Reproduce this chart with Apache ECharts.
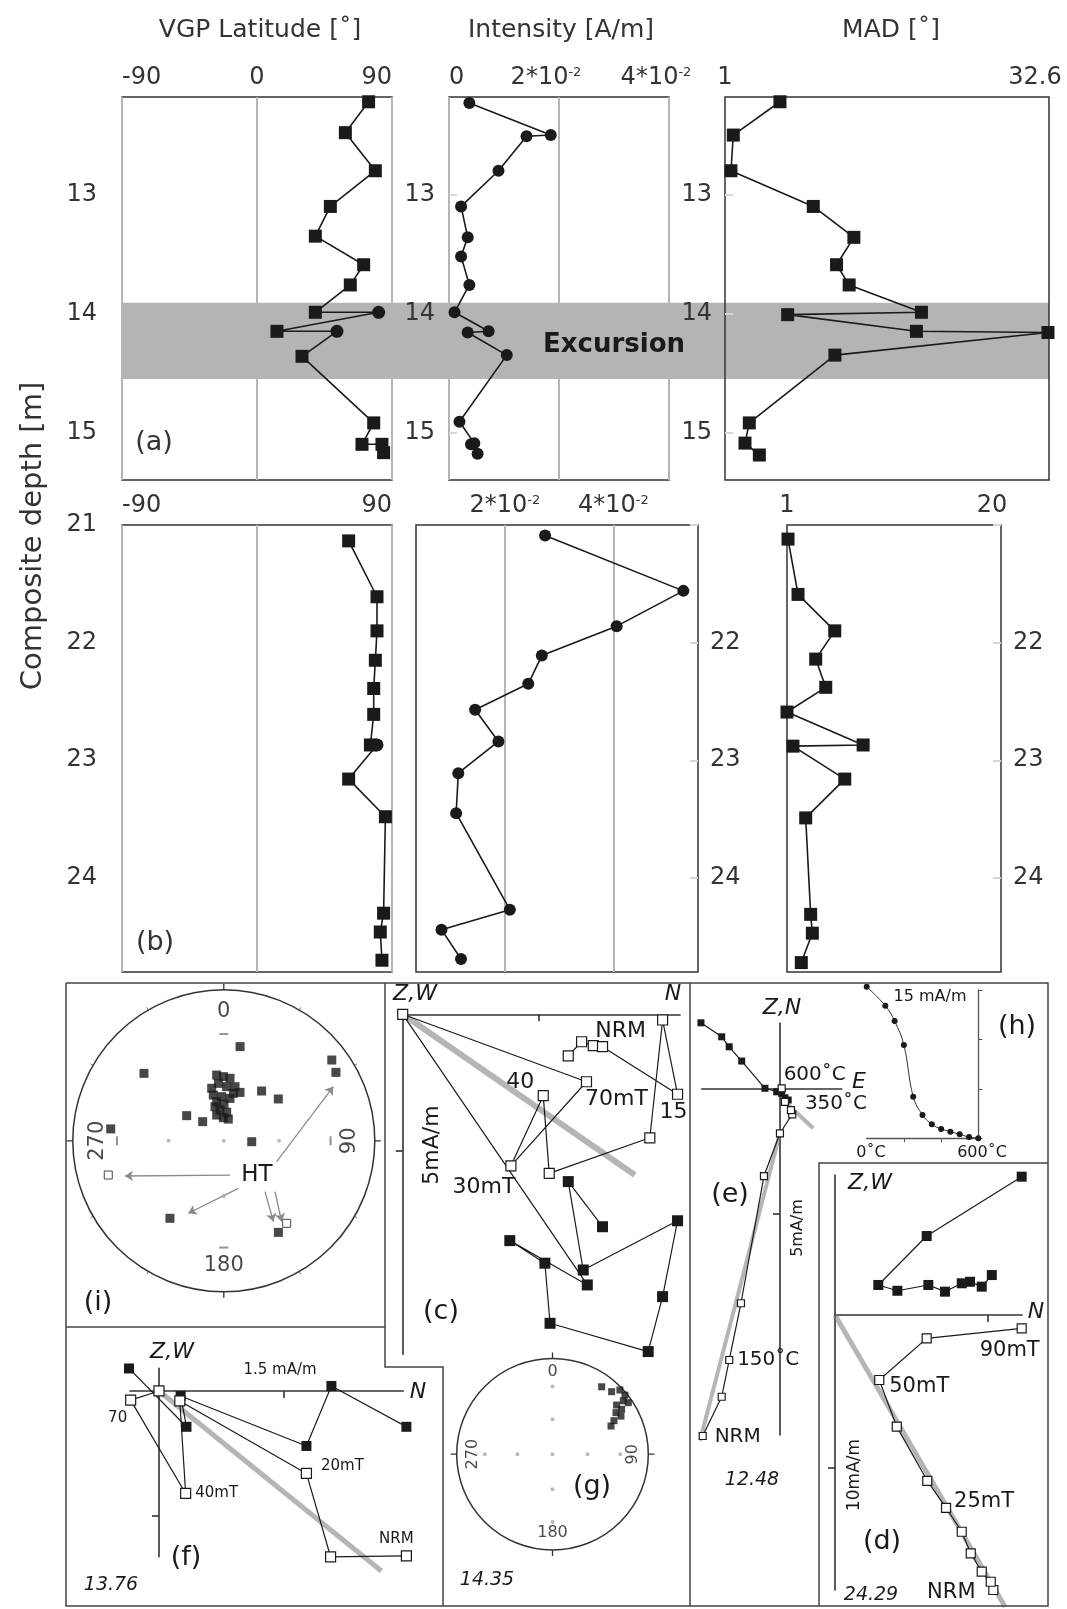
<!DOCTYPE html>
<html><head><meta charset="utf-8">
<script src="https://cdn.jsdelivr.net/npm/echarts@6.0.0/dist/echarts.min.js"></script>
<style>html,body{margin:0;padding:0;background:#fff}#c{width:1067px;height:1609px}</style>
</head><body><div id="c"></div>
<script>
const FONT = 'DejaVu Sans';
const INK = '#1a1a1a';

// ===== Depth profiles: [value, composite depth (m)] =====
const vgpTop = [[74.4,12.22],[58.9,12.48],[78.9,12.80],[48.9,13.10],[38.9,13.35],[71.1,13.59],[62.2,13.76],[38.9,13.99],[81.1,13.99],[13.3,14.15],[53.3,14.15],[30.0,14.36],[77.8,14.92],[70.0,15.10],[83.3,15.10],[84.4,15.17]];
const vgpTopCircleIdx = [8, 10];
const intTop = [[0.0037,12.23],[0.0185,12.50],[0.0141,12.51],[0.0090,12.80],[0.0022,13.10],[0.0034,13.36],[0.0022,13.52],[0.0037,13.76],[0.0010,13.99],[0.0072,14.15],[0.0034,14.16],[0.0105,14.35],[0.0019,14.91],[0.0046,15.09],[0.0040,15.10],[0.0052,15.18]];
const madTop = [[6.36,12.22],[1.81,12.50],[1.58,12.80],[9.61,13.10],[13.57,13.36],[11.88,13.59],[13.11,13.76],[20.16,13.99],[7.11,14.01],[19.67,14.15],[32.5,14.16],[11.72,14.35],[3.37,14.92],[2.95,15.09],[4.35,15.19]];
const vgpBot = [[61.1,21.135],[80,21.61],[80,21.90],[78.9,22.15],[77.8,22.39],[77.8,22.61],[75.6,22.87],[80,22.87],[61.1,23.16],[85.6,23.48],[84.4,24.30],[82.2,24.46],[83.3,24.70]];
const vgpBotCircleIdx = [7];
const intBot = [[0.0274,21.09],[0.0529,21.56],[0.0406,21.86],[0.0268,22.11],[0.0243,22.35],[0.0145,22.57],[0.0188,22.84],[0.0114,23.11],[0.0110,23.45],[0.0209,24.27],[0.0083,24.44],[0.0119,24.69]];
const madBot = [[1.09,21.12],[1.98,21.59],[5.24,21.90],[3.55,22.14],[4.44,22.38],[1.0,22.59],[7.76,22.87],[1.53,22.88],[6.13,23.16],[2.66,23.49],[3.10,24.31],[3.25,24.47],[2.27,24.72]];
const excursionBand = [13.91, 14.55];
const depthRangeTop = [12.18, 15.4];
const depthRangeBot = [21, 24.8];
const depthTicksTop = [13, 14, 15];
const vgpRange = [-90, 90];
const intRangeTop = [0, 0.04];
const intRangeBot = [0.0036, 0.0556];
const intTicks = [0.02, 0.04];
const madRangeTop = [1, 32.6];
const madRangeBot = [1, 20];

// ===== Zijderveld diagrams (mA/m; x = N or E, y = up/down component) =====
const cOpen = [[6.09,-1.53],[6.58,-1.01],[7.01,-1.15],[7.35,-1.19],[10.11,-2.94],[9.56,-0.21],[9.09,-4.54],[5.39,-5.85],[5.17,-2.99],[3.98,-5.57],[6.76,-2.48],[0,0]];
const cOpenNames = ['','','','','15','NRM','','','40','30mT','70mT',''];
const cFilled = [[7.35,-7.81],[6.09,-6.15],[6.64,-9.40],[10.11,-7.59],[9.56,-10.38],[9.03,-12.40],[5.42,-11.36],[5.23,-9.15],[3.94,-8.32],[6.79,-9.95],[0,0]];
const cFit = [[0,0],[8.54,-5.91]];

const eOpen = [[-3.09,-13.91],[-2.33,-12.34],[-2.03,-10.87],[-1.56,-8.6],[-0.64,-3.51],[0,-1.8],[0.49,-1.04],[0.44,-0.87],[0.2,-0.54],[0.07,0]];
const eOpenNames = ['NRM','','150˚C','','','','','','350˚C','600˚C'];
const eFilled = [[-3.16,2.62],[-2.33,2.06],[-2.03,1.66],[-1.53,1.09],[-0.6,0],[-0.13,-0.14],[0.07,-0.2],[0.2,-0.38],[0.33,-0.47]];
const eFitLong = [[0,-1.8],[-3.2,-14.1]];
const eFitShort = [[0.2,-0.54],[1.33,-1.6]];

const dOpen = [[10.38,-18.03],[10.21,-17.49],[9.62,-16.83],[8.90,-15.63],[8.31,-14.21],[7.28,-12.64],[6.05,-10.87],[4.05,-7.32],[2.90,-4.26],[6.01,-1.53],[12.24,-0.87]];
const dOpenNames = ['NRM','','','','','25mT','','','50mT','','90mT'];
const dFilled = [[10.28,2.62],[9.62,1.86],[8.85,2.18],[8.31,2.08],[7.21,1.53],[6.12,1.97],[4.09,1.59],[2.84,1.97],[6.01,5.18],[12.24,9.07]];
const dFit = [[0,0],[11.15,-19.13]];

const fOpen = [[2.97,-1.98],[2.06,-1.99],[1.77,-0.99],[0.25,-0.12],[0.32,-1.23],[-0.34,-0.11],[0,0]];
const fOpenNames = ['NRM','','20mT','','40mT','70',''];
const fFilled = [[-0.36,0.27],[0.33,-0.43],[0.26,-0.06],[1.77,-0.66],[2.07,0.06],[2.97,-0.43]];
const fFit = [[0,0],[2.67,-2.16]];

// (h) thermal demagnetisation curve
const hTemp = [0,100,150,200,250,300,350,400,450,500,550,600];
const hMag = [15.33,13.41,11.86,9.44,4.21,2.36,1.42,0.94,0.67,0.40,0.13,0];

// ===== Stereonets: [projected radius (0..1), declination] =====
const iFilled = [[0.633,9.8],[0.893,53.2],[0.870,58.6],[0.692,310.2],[0.414,37.2],[0.455,52.5],[0.297,304.1],[0.189,312.2],[0.185,91.8],[0.753,276.0],[0.625,214.8],[0.706,149.2],
 [0.438,353.8],[0.425,359.6],[0.416,5.7],[0.382,354.6],[0.357,347.0],[0.359,3.0],[0.366,11.7],[0.338,18.5],[0.311,347.1],[0.293,357.2],[0.284,8.3],[0.263,349.7],[0.242,0.3],[0.233,345.5],[0.206,353.0],[0.190,5.8],[0.177,344.5],[0.153,358.8],[0.147,11.7],[0.321,11.4]];
const iOpen = [[0.798,253.5],[0.687,142.7]];
const gFilled = [[0.871,36.1],[0.898,43.4],[0.972,46.4],[0.976,50.8],[0.926,53.0],[0.957,55.8],[0.843,52.5],[0.860,57.0],[0.792,56.8],[0.818,60.9],[0.731,61.4],[0.678,64.3]];
const netRadii = [0.366, 0.707];
const netDirs = [0, 90, 180, 270];
const netLabels = ['0', '90', '180', '270'];
// HT arrows in (i), unit-circle x (E) / y (N)
const htArrows = [[[0.041,-0.227],[-0.654,-0.233]],[[0.350,-0.138],[0.725,0.359]],[[0.096,-0.315],[-0.235,-0.480]],[[0.273,-0.337],[0.328,-0.535]],[[0.339,-0.337],[0.383,-0.535]]];

// ===================== build option =====================
const lbl = {fontFamily: FONT, fontSize: 24, color: '#333'};
const gridLine = {show: true, lineStyle: {color: '#b5b5b5', width: 2}};
const faintTick = (vals) => ({show: true, inside: true, length: 8, customValues: vals, lineStyle: {color: '#d6d6d6', width: 2}});

const grids = [
  {left:122, top:97, width:927, height:383},
  {left:122, top:97, width:270, height:383},
  {left:449, top:97, width:220, height:383},
  {left:725, top:97, width:324, height:383},
  {left:122, top:525, width:270, height:447},
  {left:416, top:525, width:282, height:447},
  {left:787, top:525, width:214, height:447},
  {left:402.7, top:1014.3, width:277.3, height:340},
  {left:701.7, top:1023.3, width:140, height:411.7},
  {left:866.7, top:990, width:111.6, height:148.3},
  {left:835, top:1175, width:187, height:415},
  {left:130, top:1368.3, width:273.3, height:188.4},
  {left:72.8, top:989.8, width:302, height:302}
].map((g, i) => Object.assign(g, {
  outerBoundsMode: 'none', containLabel: false,
  show: i >= 1 && i <= 6, borderColor: '#333', borderWidth: 1.5, backgroundColor: 'transparent', z: 2
}));

const fontRich = {fontFamily: FONT, fontSize: 24, color: '#333'};
const intFmt = v => {
  if (Math.abs(v) < 1e-9) return '0';
  return '{b|' + Math.round(v * 100) + '*10}{s|-2}';
};
const intFmtTop = v => {
  if (Math.abs(v) < 1e-9) return '0';
  return '{b|' + Math.round(v * 100) + '*10}{s|-2}{p| }';
};
const intRich = {
  b: fontRich,
  s: {fontSize: 13, fontFamily: FONT, color: '#333', verticalAlign: 'top', lineHeight: 14},
  p: {width: 26, fontSize: 10}
};
const shiftFmt = (w) => v => (Math.abs(v - 1) < 1e-9 ? '1' : '{t|' + v + '}{p| }');
const shiftRich = (w) => ({t: fontRich, p: {width: w, fontSize: 10}});

function topX(grid, extra) {
  return Object.assign({gridIndex: grid, type: 'value', position: 'top', z: 3,
    axisLine: {show: false, onZero: false}, axisTick: {show: false}, splitLine: {show: false}}, extra);
}
function zX(grid, min, max, tick) {
  return {gridIndex: grid, type: 'value', min, max, z: 3,
    axisLine: {show: true, onZero: true, lineStyle: {color: '#333', width: 1.6}},
    axisTick: {show: true, customValues: [tick], length: 7, lineStyle: {color: '#333', width: 1.6}},
    axisLabel: {show: false}, splitLine: {show: false}};
}
const xAxes = [
  {gridIndex:0, type:'value', min:0, max:1, show:false},
  topX(1, {min: vgpRange[0], max: vgpRange[1], interval: 90, splitLine: gridLine,
    axisLabel: Object.assign({}, lbl, {margin: 7, alignMinLabel: 'left', alignMaxLabel: 'right'})}),
  topX(2, {min: intRangeTop[0], max: intRangeTop[1], interval: 0.02, splitLine: gridLine,
    axisLabel: Object.assign({}, lbl, {margin: 7, formatter: intFmtTop, rich: intRich, alignMinLabel: 'left'})}),
  topX(3, {min: madRangeTop[0], max: madRangeTop[1], axisTick: {show: false, customValues: madRangeTop},
    axisLabel: Object.assign({}, lbl, {margin: 7, customValues: madRangeTop, formatter: shiftFmt(28), rich: shiftRich(28)})}),
  topX(4, {min: vgpRange[0], max: vgpRange[1], interval: 90, splitLine: gridLine,
    axisLabel: Object.assign({}, lbl, {margin: 7, alignMinLabel: 'left', alignMaxLabel: 'right', formatter: v => v === 0 ? '' : String(v)})}),
  topX(5, {min: intRangeBot[0], max: intRangeBot[1], splitLine: gridLine, axisTick: {show: false, customValues: intTicks},
    axisLabel: Object.assign({}, lbl, {margin: 7, customValues: intTicks, formatter: intFmt, rich: intRich})}),
  topX(6, {min: madRangeBot[0], max: madRangeBot[1], axisTick: {show: false, customValues: madRangeBot},
    axisLabel: Object.assign({}, lbl, {margin: 7, customValues: madRangeBot, formatter: shiftFmt(18), rich: shiftRich(18)})}),
  zX(7, 0, 10.2, 5),
  zX(8, -3.13, 2.47, 100),
  {gridIndex: 9, type: 'value', min: 0, max: 600, z: 3,
    axisLine: {show: true, onZero: false, lineStyle: {color: '#555', width: 1.3}},
    axisTick: {show: true, customValues: [200, 400], length: 4, lineStyle: {color: '#555'}},
    axisLabel: {show: false}, splitLine: {show: false}},
  zX(10, 0, 12.26, 10),
  zX(11, -0.348, 2.933, 1.5),
  {gridIndex:12, type:'value', min:-1, max:1, show:false}
];

function depthY(grid, range, extra) {
  return Object.assign({gridIndex: grid, type: 'value', inverse: true, min: range[0], max: range[1], z: 3,
    axisLine: {show: false, onZero: false}, axisTick: {show: false}, splitLine: {show: false}}, extra);
}
const hideFirst = v => v === 21 ? '' : String(v);
const botTickR = {show: true, inside: true, length: 8, lineStyle: {color: '#d6d6d6', width: 2}};
const yAxes = [
  {gridIndex:0, type:'value', inverse:true, min:depthRangeTop[0], max:depthRangeTop[1], show:false},
  depthY(1, depthRangeTop, {axisLabel: Object.assign({}, lbl, {customValues: depthTicksTop, margin: 25})}),
  depthY(2, depthRangeTop, {axisTick: faintTick(depthTicksTop), axisLabel: Object.assign({}, lbl, {customValues: depthTicksTop, margin: 14})}),
  depthY(3, depthRangeTop, {axisTick: faintTick(depthTicksTop), axisLabel: Object.assign({}, lbl, {customValues: depthTicksTop, margin: 13})}),
  depthY(4, depthRangeBot, {interval: 1, axisLabel: Object.assign({}, lbl, {margin: 25, showMaxLabel: false})}),
  depthY(5, depthRangeBot, {interval: 1, position: 'right', axisTick: botTickR,
    axisLabel: Object.assign({}, lbl, {margin: 12, formatter: hideFirst, showMaxLabel: false})}),
  depthY(6, depthRangeBot, {interval: 1, position: 'right', axisTick: botTickR,
    axisLabel: Object.assign({}, lbl, {margin: 12, formatter: hideFirst, showMaxLabel: false})}),
  zX(7, -12.5, 0, -5),
  zX(8, -13.87, 2.6, -5),
  {gridIndex: 9, type: 'value', min: 0, max: 15, interval: 5, position: 'right', z: 3,
    axisLine: {show: true, onZero: false, lineStyle: {color: '#555', width: 1.3}},
    axisTick: {show: true, length: 4, lineStyle: {color: '#555'}},
    axisLabel: {show: false}, splitLine: {show: false}},
  zX(10, -18.03, 9.18, -10),
  zX(11, -1.989, 0.272, -1.5),
  {gridIndex:12, type:'value', min:-1, max:1, show:false}
];

// ---------- series helpers ----------
function profile(idx, data, sym, size, circleIdx) {
  const ci = circleIdx || [];
  return {type: 'line', xAxisIndex: idx, yAxisIndex: idx, z: 5, clip: false,
    data: data.map((d, i) => ci.includes(i) ? {value: d, symbol: 'circle', symbolSize: 13} : {value: d}),
    symbol: sym, symbolSize: size, showSymbol: true,
    itemStyle: {color: INK}, lineStyle: {color: INK, width: 1.6}};
}
function zSeries(idx, data, open, size, names, offsets, fontSize, noSymIdx) {
  return {type: 'line', xAxisIndex: idx, yAxisIndex: idx, z: 5, clip: false,
    symbol: 'rect', symbolSize: size,
    itemStyle: open ? {color: '#fff', borderColor: INK, borderWidth: 1.2} : {color: INK},
    lineStyle: {color: INK, width: 1.2},
    data: data.map((d, i) => {
      const it = {value: d};
      if (names && names[i]) {
        it.label = {show: true, formatter: names[i], position: 'inside', offset: offsets[i],
          fontSize: fontSize, fontFamily: FONT, color: INK};
      }
      if (noSymIdx !== undefined && noSymIdx === i) it.symbol = 'none';
      return it;
    })};
}
function fit(idx, data, width) {
  return {type: 'line', xAxisIndex: idx, yAxisIndex: idx, z: 4, clip: false, symbol: 'none',
    data: data, lineStyle: {color: 'rgba(120,120,120,0.55)', width: width || 5}};
}
function stereoScatter(p, data, open, size) {
  return {type: 'scatter', coordinateSystem: 'polar', polarIndex: p, z: 5, symbol: 'rect', symbolSize: size,
    data: data, itemStyle: open ? {color: '#fff', borderColor: INK, borderWidth: 1} : {color: INK}};
}
function netMarks(p, dashOuter) {
  const pts = [{value: [0, 0]}];
  netRadii.forEach((r, k) => netDirs.forEach(a => {
    if (k === 1 && dashOuter) {
      pts.push({value: [r, a], symbol: 'rect', symbolSize: (a % 180 === 0) ? [9, 2] : [2, 9], itemStyle: {color: '#777'}});
    } else pts.push({value: [r, a]});
  }));
  return {type: 'scatter', coordinateSystem: 'polar', polarIndex: p, z: 4, symbol: 'circle', symbolSize: 4,
    itemStyle: {color: '#aaa'}, data: pts, silent: true};
}
function netText(p, r, size) {
  return {type: 'scatter', coordinateSystem: 'polar', polarIndex: p, z: 6, symbolSize: 1,
    itemStyle: {color: 'rgba(0,0,0,0)'},
    data: netDirs.map((a, k) => ({value: [r[k], a], label: {show: true, position: 'inside', formatter: netLabels[k],
      rotate: (a === 90 || a === 270) ? 90 : 0, fontSize: size, fontFamily: FONT, color: INK}}))};
}

const series = [
  {type: 'line', xAxisIndex: 0, yAxisIndex: 0, z: 1, silent: true, showSymbol: false, data: [[0, 13]],
    lineStyle: {width: 0},
    markArea: {silent: true, itemStyle: {color: '#b4b4b4'}, data: [[{yAxis: excursionBand[0]}, {yAxis: excursionBand[1]}]]}},
  profile(1, vgpTop, 'rect', 13, vgpTopCircleIdx),
  profile(2, intTop, 'circle', 12),
  profile(3, madTop, 'rect', 13),
  profile(4, vgpBot, 'rect', 13, vgpBotCircleIdx),
  profile(5, intBot, 'circle', 12),
  profile(6, madBot, 'rect', 13),
  // (c)
  fit(7, cFit, 6),
  zSeries(7, cFilled, false, 11, null, null, 0, cFilled.length - 1),
  zSeries(7, cOpen, true, 10, cOpenNames, {4:[-4,18], 5:[-42,11], 8:[-23,-13], 9:[-27,21], 10:[30,18]}, 22),
  // (e)
  fit(8, eFitLong, 4), fit(8, eFitShort, 4),
  zSeries(8, eFilled, false, 7),
  zSeries(8, eOpen, true, 7, eOpenNames, {0:[35,1], 2:[39,0], 8:[51,2], 9:[33,-13]}, 20),
  // (h)
  {type: 'line', xAxisIndex: 9, yAxisIndex: 9, z: 5, clip: false, smooth: 0.4, symbol: 'circle', symbolSize: 6,
    itemStyle: {color: INK}, lineStyle: {color: '#333', width: 1}, data: hTemp.map((t, i) => [t, hMag[i]])},
  // (d)
  fit(10, dFit, 5),
  zSeries(10, dFilled, false, 10),
  zSeries(10, dOpen, true, 9, dOpenNames, {0:[-42,3], 5:[38,-6], 8:[40,7], 10:[-12,22]}, 21),
  // (f)
  fit(11, fFit, 5),
  zSeries(11, fFilled, false, 10),
  zSeries(11, fOpen, true, 10, fOpenNames, {0:[-10,-17], 2:[36,-7], 4:[31,0], 5:[-13,18]}, 15),
  // (i)
  netMarks(0, true),
  netText(0, [0.853, 0.835, 0.823, 0.833], 21),
  stereoScatter(0, iFilled, false, 9),
  stereoScatter(0, iOpen, true, 8),
  {type: 'lines', coordinateSystem: 'cartesian2d', xAxisIndex: 12, yAxisIndex: 12, z: 4,
    symbol: ['none', 'arrow'], symbolSize: 8, lineStyle: {color: '#8a8a8a', width: 1.3, opacity: 1},
    data: htArrows.map(c => ({coords: c}))},
  // (g)
  netMarks(1, false),
  netText(1, [0.86, 0.84, 0.82, 0.83], 16),
  stereoScatter(1, gFilled, false, 7)
];

// ---------- annotations ----------
function txt(text, x, y, size, o) {
  o = o || {};
  return {type: 'text', x: x, y: y, rotation: o.rot || 0, z: 20, silent: true,
    style: {text: text, fontSize: size, fontFamily: FONT, fontStyle: o.italic ? 'italic' : 'normal',
      fontWeight: o.bold ? 'bold' : 'normal', fill: o.color || INK, align: 'center', verticalAlign: 'middle'}};
}
const R90 = Math.PI / 2;
const texts = [
  txt('VGP Latitude [˚]', 260, 30, 25, {color: '#333'}),
  txt('Intensity [A/m]', 561, 30, 25, {color: '#333'}),
  txt('MAD [˚]', 891, 30, 25, {color: '#333'}),
  txt('Composite depth [m]', 33, 536, 29, {rot: R90, color: '#333'}),
  txt('(a)', 154, 443, 27, {color: '#333'}),
  txt('(b)', 155, 943, 27, {color: '#333'}),
  txt('Excursion', 614, 345, 26, {bold: true}),
  txt('(i)', 98, 1303, 27),
  txt('HT', 257, 1175, 23),
  txt('(c)', 441, 1312, 27),
  txt('Z,W', 415, 994, 22, {italic: true}),
  txt('N', 673, 994, 22, {italic: true}),
  txt('5mA/m', 432, 1145, 22, {rot: R90}),
  txt('(g)', 592, 1487, 27),
  txt('14.35', 487, 1580, 19, {italic: true}),
  txt('(f)', 186, 1558, 27),
  txt('13.76', 111, 1585, 19, {italic: true}),
  txt('Z,W', 172, 1352, 22, {italic: true}),
  txt('N', 418, 1392, 22, {italic: true}),
  txt('1.5 mA/m', 280, 1370, 15),
  txt('(e)', 730, 1195, 27),
  txt('Z,N', 782, 1008, 22, {italic: true}),
  txt('E', 859, 1082, 22, {italic: true}),
  txt('5mA/m', 798, 1228, 16, {rot: R90}),
  txt('12.48', 752, 1480, 19, {italic: true}),
  txt('(h)', 1017, 1027, 27),
  txt('15 mA/m', 930, 997, 16),
  txt('0˚C', 871, 1153, 16),
  txt('600˚C', 982, 1153, 16),
  txt('(d)', 882, 1542, 27),
  txt('Z,W', 870, 1183, 22, {italic: true}),
  txt('N', 1036, 1312, 22, {italic: true}),
  txt('10mA/m', 855, 1475, 17, {rot: R90}),
  txt('24.29', 871, 1595, 19, {italic: true})
];
const frameLines = [
  [[66,983],[1048,983],[1048,1606],[66,1606],[66,983]],
  [[385,983],[385,1367],[443,1367],[443,1606]],
  [[66,1327],[385,1327]],
  [[690,983],[690,1606]],
  [[819,1606],[819,1163],[1048,1163]]
].map(p => ({type: 'polyline', z: 15, silent: true, shape: {points: p},
  style: {stroke: '#444', lineWidth: 1.5, fill: null}}));

const option = {
  animation: false,
  backgroundColor: '#fff',
  textStyle: {fontFamily: FONT},
  grid: grids,
  xAxis: xAxes,
  yAxis: yAxes,
  polar: [{center: [223.8, 1140.8], radius: 151}, {center: [552.5, 1454.2], radius: 95.8}],
  angleAxis: [0, 1].map(p => ({polarIndex: p, type: 'value', min: 0, max: 360, startAngle: 90, clockwise: true, interval: 90,
    axisLine: {show: true, lineStyle: {color: '#333', width: 1.5}},
    axisTick: {show: true, length: 6, lineStyle: {color: '#333', width: 1.3}},
    minorTick: {show: p === 0, splitNumber: 3, length: 3, lineStyle: {color: '#777'}},
    axisLabel: {show: false}, splitLine: {show: false}})),
  radiusAxis: [0, 1].map(p => ({polarIndex: p, type: 'value', min: 0, max: 1, show: false,
    axisLine: {show: false}, axisLabel: {show: false}, axisTick: {show: false}, splitLine: {show: false}})),
  series: series,
  graphic: {elements: texts.concat(frameLines)}
};
const chart = echarts.init(document.getElementById('c'), null, {renderer: 'canvas'});
chart.setOption(option);
</script></body></html>
